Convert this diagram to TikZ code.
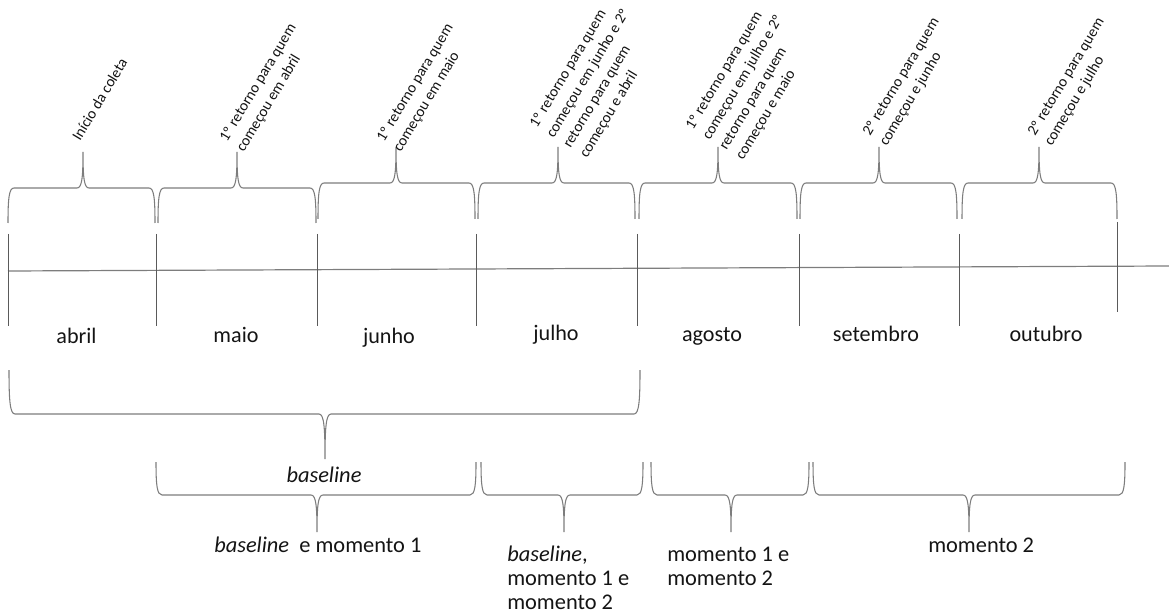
\documentclass[tikz,border=0pt]{standalone}
\usepackage{fontspec}
\setmainfont{Carlito}
\definecolor{brcol}{RGB}{125,125,125}
\definecolor{tkcol}{RGB}{90,90,90}
\definecolor{txcol}{RGB}{20,20,20}
\newcommand{\drawbrace}[6]{%
  \draw[brc] (#1,#4) .. controls (#1,{#5+0.3*(#4-#5)}) and (#1+1,#5) .. (#1+6,#5)
    -- (#3-6,#5) .. controls (#3-1,#5) and (#3,{#5+0.3*(#6-#5)}) .. (#3,#6)
    .. controls (#3,{#5+0.3*(#6-#5)}) and (#3+1,#5) .. (#3+6,#5)
    -- (#2-6,#5) .. controls (#2-1,#5) and (#2,{#5+0.3*(#4-#5)}) .. (#2,#4);}
\begin{document}
\begin{tikzpicture}[x=0.75pt,y=-0.75pt,
  brc/.style={draw=brcol,line width=0.8pt},
  tk/.style={draw=tkcol,line width=0.7pt},
  tl/.style={draw=brcol,line width=0.9pt},
  mon/.style={inner sep=0pt,anchor=base,text=txcol,font=\fontsize{16.6}{20}\selectfont},
  lab/.style={inner sep=0pt,anchor=base west,text=txcol,font=\fontsize{16.8}{18}\selectfont},
  rot/.style={inner sep=0pt,anchor=base west,rotate=59,text=txcol,font=\fontsize{11.4}{14.6}\selectfont}]
\useasboundingbox (0,0) rectangle (1169,616);
% timeline
\coordinate (tlL) at (8,271);
\coordinate (tlR) at (1169,266);
\draw[tl] (tlL) -- (tlR);
% ticks
\foreach \x in {8,156,317,476,637,799,959}{\draw[tk] (\x,234) -- (\x,326);}
\draw[tk] (1117,222) -- (1117,312);
% top braces
\drawbrace{8}{155}{83}{223}{188}{152}
\drawbrace{158}{316}{237}{223}{188}{152}
\drawbrace{318}{475}{396}{219}{183}{147}
\drawbrace{478}{635}{558}{219}{183}{147}
\drawbrace{639}{797}{718}{219}{183}{147}
\drawbrace{800}{957}{879}{219}{183}{147}
\drawbrace{962}{1117}{1039}{219}{183}{147}
% rotated labels
\node[rot] (r1) at (80,142) {Início da coleta};
\node[rot] (r2) at (227,143) {\begin{tabular}[t]{@{}l@{}}1º retorno para quem\\ começou em abril\end{tabular}};
\node[rot] (r3) at (384,143) {\begin{tabular}[t]{@{}l@{}}1º retorno para quem\\ começou em maio\end{tabular}};
\node[rot] (r4) at (537,129) {\begin{tabular}[t]{@{}l@{}}1º retorno para quem\\ começou em junho e 2º\\ retorno para quem\\ começou e abril\end{tabular}};
\node[rot] (r5) at (693,131) {\begin{tabular}[t]{@{}l@{}}1º retorno para quem\\ começou em julho e 2º\\ retorno para quem\\ começou e maio\end{tabular}};
\node[rot] (r6) at (870,137) {\begin{tabular}[t]{@{}l@{}}2º retorno para quem\\ começou e junho\end{tabular}};
\node[rot] (r7) at (1035,137) {\begin{tabular}[t]{@{}l@{}}2º retorno para quem\\ começou e julho\end{tabular}};
% months
\node[mon] (abril) at (76.5,343) {abril};
\node[mon] (maio) at (236,342) {maio};
\node[mon] (junho) at (389,343) {junho};
\node[mon] (julho) at (556,340) {julho};
\node[mon] (agosto) at (712,341) {agosto};
\node[mon] (setembro) at (876,341) {setembro};
\node[mon] (outubro) at (1046,341) {outubro};
% baseline brace
\drawbrace{9}{640}{325}{370}{414}{459}
\node[lab,anchor=base] (bl) at (324,482) {\textit{baseline}};
% bottom braces
\drawbrace{156}{476}{317}{462}{495}{532}
\drawbrace{481}{643}{564}{462}{495}{532}
\drawbrace{651}{809}{731}{462}{495}{532}
\drawbrace{813}{1125}{969}{462}{495}{532}
\node[lab] (b1) at (214,552) {\textit{baseline}\ \ e momento 1};
\node[lab] (b2) at (507,561) {\begin{tabular}[t]{@{}l@{}}\textit{baseline},\\ momento 1 e\\ momento 2\end{tabular}};
\node[lab] (b3) at (667,561) {\begin{tabular}[t]{@{}l@{}}momento 1 e\\ momento 2\end{tabular}};
\node[lab] (b4) at (928,552) {momento 2};
\end{tikzpicture}
\end{document}
